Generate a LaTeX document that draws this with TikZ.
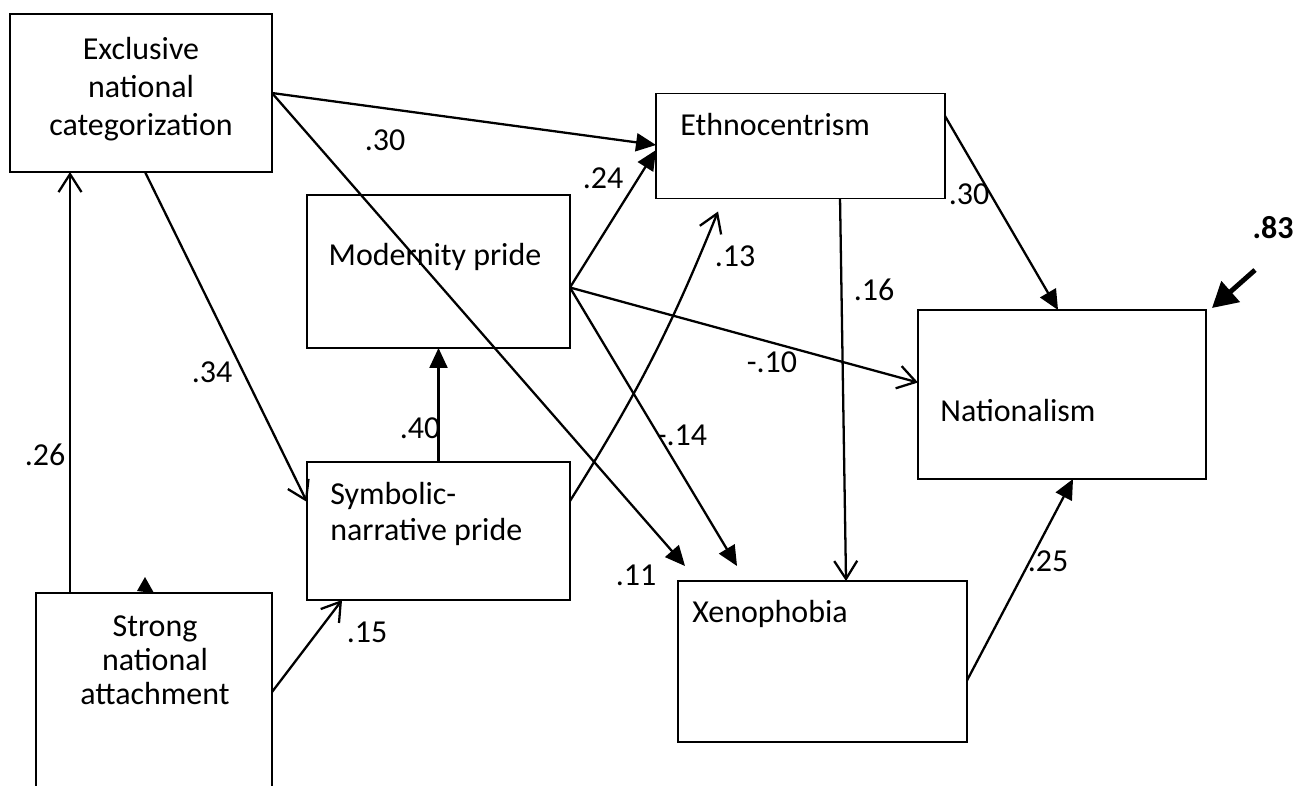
\documentclass[tikz,border=0pt]{standalone}
\usepackage{fontspec}
\setmainfont{Carlito}
\usetikzlibrary{arrows.meta,calc}
\tikzset{
  box/.style={draw,line width=1.1pt,inner sep=0pt,outer sep=0pt},
  txt/.style={font=\fontsize{18.2}{21}\selectfont,inner sep=0pt},
  coef/.style={font=\fontsize{18.2}{21}\selectfont,inner sep=0pt},
  barb/.style={line width=1.3pt,-{Straight Barb[length=3.6mm,width=4.6mm]}},
  tri/.style={line width=1.3pt,-{Triangle[length=4mm,width=3.6mm]}},
  resid/.style={line width=2.8pt,-{Triangle[length=5mm,width=5.4mm]}},
}
\begin{document}
\begin{tikzpicture}[x=0.02cm,y=-0.02cm]
  \useasboundingbox (0,0) rectangle (1298,785);
  \clip (0,0) rectangle (1298,785);
  % boxes
  \node[box,minimum width=5.24cm,minimum height=3.16cm] (exc) at (141,93) {};
  \node[box,minimum width=5.26cm,minimum height=3.06cm] (mod) at (438.5,271.5) {};
  \node[box,minimum width=5.26cm,minimum height=2.76cm] (sym) at (438.5,531) {};
  \node[box,minimum width=4.72cm,minimum height=4.28cm] (str) at (154,700) {};
  \node[box,minimum width=5.78cm,minimum height=2.1cm] (eth) at (800.5,146) {};
  \node[box,minimum width=5.76cm,minimum height=3.38cm] (nat) at (1062,394.5) {};
  \node[box,minimum width=5.78cm,minimum height=3.22cm] (xen) at (822.5,661.5) {};
  % box texts
  \node[txt,align=center,font=\fontsize{18.2}{21.6}\selectfont] (excT) at (141,89) {Exclusive\\national\\categorization};
  \node[txt,anchor=base] (modT) at (435,265) {Modernity pride};
  \node[txt,align=left,anchor=west] (symT) at (330,514) {Symbolic-\\narrative pride};
  \node[txt,align=center,font=\fontsize{18.2}{19.5}\selectfont] (strT) at (155,660) {Strong\\national\\attachment};
  \node[txt,anchor=base west] (ethT) at (680,135) {Ethnocentrism};
  \node[txt,anchor=base west] (natT) at (940,421) {Nationalism};
  \node[txt,anchor=base west] (xenT) at (692,622) {Xenophobia};
  % paths
  \draw[barb] ($(str.north west)+(34,0)$) coordinate (s1) -- (s1 |- exc.south);
  \fill ($(str.north)+(-9,-16)$) -- ($(str.north)+(-17,-2)$) -- (str.north) -- cycle;
  \draw[barb] ($(exc.south west)+(135,0)$) -- ($(sym.north west)+(0,40)$);
  \draw[tri] (exc.east) -- ($(eth.west)+(0,-1)$);
  \draw[tri] (exc.east) -- ($(xen.north west)+(7,-15)$);
  \draw[tri] ($(mod.east)+(0,16)$) -- ($(eth.west)+(0,4)$);
  \draw[barb] ($(mod.east)+(0,16)$) -- ($(nat.west)+(0,-12)$);
  \draw[tri] ($(mod.east)+(0,16)$) -- ($(xen.north west)+(59,-15)$);
  \draw[tri] (sym.north) -- (mod.south);
  \draw[barb] ($(sym.east)+(0,-30)$) to[bend right=5] ($(eth.south west)+(62,13)$);
  \draw[barb] ($(str.north east)+(0,99)$) -- ($(sym.south west)+(35,0)$);
  \draw[barb] ($(eth.south west)+(184,0)$) -- ($(xen.north west)+(168,0)$);
  \draw[tri] ($(eth.east)+(0,-30)$) -- ($(nat.north west)+(140,0)$);
  \draw[tri] ($(xen.east)+(0,19)$) -- ($(nat.south west)+(155,0)$);
  \coordinate (err) at (1255,270);
  \draw[resid] (err) -- ($(nat.north east)+(6,-2)$);
  % coefficients
  \node[coef] (c26) at (45,455) {.26};
  \node[coef] (c34) at (212,372) {.34};
  \node[coef] (c30a) at (385,140) {.30};
  \node[coef] (c24) at (603,178) {.24};
  \node[coef] (c13) at (735,256) {.13};
  \node[coef] (c40) at (420,428) {.40};
  \node[coef] (c16) at (874,290) {.16};
  \node[coef] (c30b) at (969,194) {.30};
  \node[coef] (c10) at (772,362) {-.10};
  \node[coef] (c14) at (682,435) {-.14};
  \node[coef] (c11) at (636,575) {.11};
  \node[coef] (c15) at (367,632) {.15};
  \node[coef] (c25) at (1048,561) {.25};
  \node[coef,font=\fontsize{18.2}{21}\selectfont\bfseries] (c83) at (1273,228) {.83};
\end{tikzpicture}
\end{document}
